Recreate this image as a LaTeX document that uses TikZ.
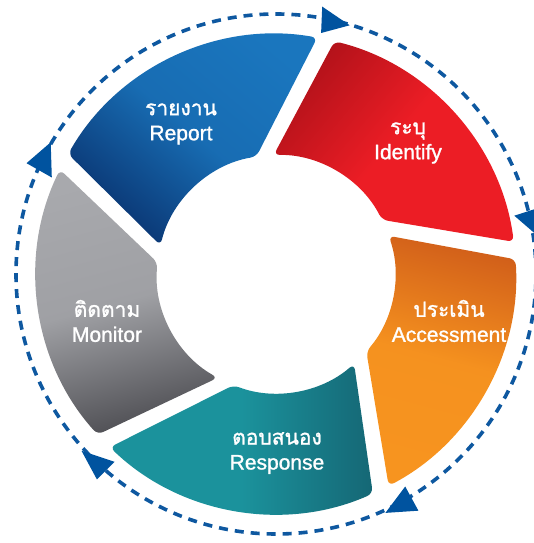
\documentclass[tikz,border=0pt]{standalone}
\usepackage{fontspec}
\setmainfont{Liberation Sans}
\newfontfamily\latinfont{Liberation Sans}[FakeBold=1.2]
\newfontfamily\thaifont{Loma}[Script=Thai,FakeBold=1.2]
\definecolor{ringblue}{HTML}{0E58A0}
\definecolor{arrowblue}{HTML}{00539F}
\definecolor{repLight}{HTML}{1A76BE}
\definecolor{repDark}{HTML}{0A3572}
\definecolor{idDark}{HTML}{B3121A}
\definecolor{idLight}{HTML}{EC1D25}
\definecolor{acDark}{HTML}{D2601A}
\definecolor{acLight}{HTML}{F7941F}
\definecolor{reLight}{HTML}{1B929C}
\definecolor{reDark}{HTML}{156775}
\definecolor{moLight}{HTML}{A8A9AD}
\definecolor{moDark}{HTML}{505055}
\begin{document}
\begin{tikzpicture}[x=1pt,y=1pt,
  seg/.style={rounded corners=6pt},
  lbl/.style={text=white, align=center, font=\fontsize{21}{25}\selectfont\latinfont, inner sep=0pt},
  tri/.style={fill=arrowblue},
  ring/.style={draw=ringblue, line width=3.6pt, dash pattern=on 9pt off 7pt}]
\useasboundingbox (0,0) rectangle (533,543);
\coordinate (C) at (276,269);
% dashed ring
\draw[ring] (C) circle[radius=260];
% arrow heads
\fill[tri, scale around={1.1:(331,521)}] (323,535) -- (322,511) -- (348,518) -- cycle;
\fill[tri, scale around={1.1:(533,324)}] (516,327) -- (544,336) -- (538,308) -- cycle;
\fill[tri, scale around={1.1:(403,40)}] (405,55) -- (387,31) -- (417,33) -- cycle;
\fill[tri, scale around={1.1:(98,79)}] (83,91) -- (113,81) -- (97,65) -- cycle;
\fill[tri, scale around={1.1:(43,382)}] (28,380) -- (50,399) -- (51,367) -- cycle;
\begin{scope}[shift={(276,269)}]
% Report
\shade[seg, top color=repLight, bottom color=repDark, middle color=repLight!85!repDark, shading angle=-40]
  (150:240) arc[start angle=150, end angle=80.1, radius=240]
  -- (99.5:119) arc[start angle=99.5, end angle=166.1, radius=119] -- cycle;
% Identify
\shade[seg, top color=idDark, bottom color=idLight, middle color=idLight, shading angle=50]
  (75.9:240) arc[start angle=75.9, end angle=7.7, radius=240]
  -- (27.1:119) arc[start angle=27.1, end angle=91.1, radius=119] -- cycle;
% Accessment
\shade[seg, top color=acDark, bottom color=acLight, middle color=acLight!95!acDark, shading angle=-15]
  (3.5:240) arc[start angle=3.5, end angle=-62, radius=240]
  -- (-40.6:119) arc[start angle=-40.6, end angle=18.7, radius=119] -- cycle;
% Response
\shade[seg, left color=reLight, right color=reDark, middle color=reLight]
  (-66.2:240) arc[start angle=-66.2, end angle=-133.8, radius=240]
  -- (-110.9:119) arc[start angle=-110.9, end angle=-49, radius=119] -- cycle;
% Monitor
\shade[seg, top color=moLight, bottom color=moDark, middle color=moLight!90!moDark, shading angle=15]
  (-138:240) arc[start angle=-138, end angle=-205.8, radius=240]
  -- (-185.5:119) arc[start angle=-185.5, end angle=-119.3, radius=119] -- cycle;
\end{scope}
% labels
\node[lbl] (report) at (181,419) {{\thaifont รายงาน}\\Report};
\node[lbl] (identify) at (408,400) {{\thaifont ระบุ}\\Identify};
\node[lbl] (assess) at (449,222) {{\thaifont ประเมิน}\\Accessment};
\node[lbl] (response) at (277,90) {{\thaifont ตอบสนอง}\\Response};
\node[lbl] (monitor) at (107,222) {{\thaifont ติดตาม}\\Monitor};
\end{tikzpicture}
\end{document}
